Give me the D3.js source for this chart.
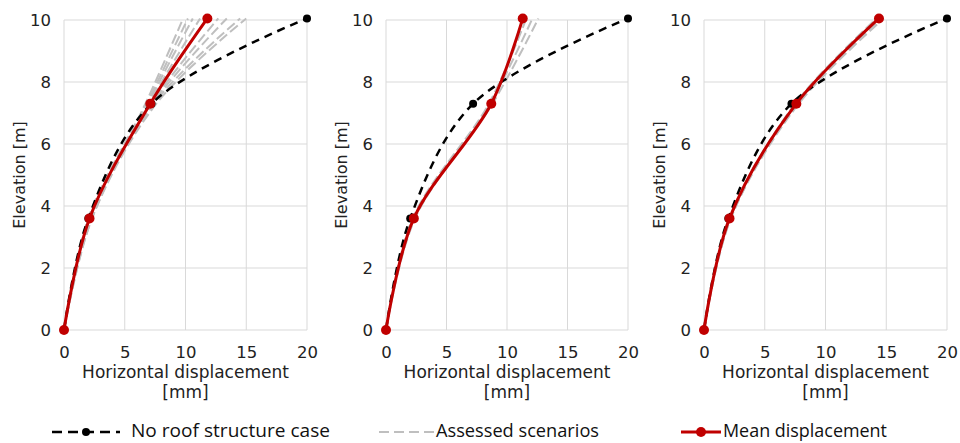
<!DOCTYPE html>
<html>
<head>
<meta charset="utf-8">
<script src="https://cdn.jsdelivr.net/npm/d3@7"></script>
<style>
  body { margin: 0; background: #fff; }
  svg { display: block; }
  .legend text { font-family: "Open Sans", "Noto Sans", sans-serif; font-size: 19px; fill: #111; }
</style>
</head>
<body>
<svg id="chart" width="960" height="443"></svg>
<script>
const elevations = [0, 3.6, 7.3, 10.05];
const xTicks = [0, 5, 10, 15, 20];
const yTicks = [0, 2, 4, 6, 8, 10];

// no roof structure case, per panel
const noRoof = [
  [0, 2.0, 7.2, 20],
  [0, 2.0, 7.2, 20],
  [0, 2.0, 7.2, 20]
];

// mean displacement, per panel
const meanDisp = [
  [0, 2.1, 7.1, 11.8],
  [0, 2.3, 8.7, 11.3],
  [0, 2.1, 7.6, 14.4]
];

// assessed scenarios, per panel
const scenarios = [
  [
    [0, 2.0, 6.7, 9.8],
    [0, 2.0, 6.8, 10.2],
    [0, 2.1, 6.9, 10.6],
    [0, 2.1, 7.0, 11.2],
    [0, 2.2, 7.2, 12.7],
    [0, 2.2, 7.3, 13.4],
    [0, 2.3, 7.4, 14.5],
    [0, 2.3, 7.6, 15.0]
  ],
  [
    [0, 2.2, 8.5, 11.6],
    [0, 2.3, 8.6, 12.1],
    [0, 2.4, 8.8, 12.6]
  ],
  [
    [0, 2.1, 7.5, 14.2],
    [0, 2.2, 7.7, 14.6],
    [0, 2.2, 7.8, 14.8]
  ]
];

const panels = [
  {left: 64, right: 307},
  {left: 386, right: 628},
  {left: 704, right: 947}
];
const plotTop = 20, plotBottom = 330;
const font = '"DejaVu Sans", Verdana, sans-serif';

const svg = d3.select('#chart');

const styleTicks = a => {
  a.select('.domain').remove();
  a.selectAll('text')
      .attr('font-family', font)
      .attr('font-size', 16.5)
      .attr('fill', '#222');
};

const drawPanel = (p, i) => {
  const x = d3.scaleLinear().domain([0, 20]).range([p.left, p.right]);
  const y = d3.scaleLinear().domain([0, 10]).range([plotBottom, plotTop]);
  const g = svg.append('g');

  // gridlines
  g.selectAll('.vgrid').data(xTicks).join('line')
      .attr('x1', d => x(d)).attr('x2', d => x(d))
      .attr('y1', plotTop).attr('y2', plotBottom)
      .attr('stroke', '#d9d9d9').attr('stroke-width', 1);
  g.selectAll('.hgrid').data(yTicks).join('line')
      .attr('x1', p.left).attr('x2', p.right)
      .attr('y1', d => y(d)).attr('y2', d => y(d))
      .attr('stroke', '#d9d9d9').attr('stroke-width', 1);

  g.append('g')
      .attr('transform', `translate(0,${plotBottom})`)
      .call(d3.axisBottom(x).tickValues(xTicks).tickSize(0).tickPadding(16))
      .call(styleTicks);
  g.append('g')
      .attr('transform', `translate(${p.left},0)`)
      .call(d3.axisLeft(y).tickValues(yTicks).tickSize(0).tickPadding(13))
      .call(styleTicks);

  const label = g.append('g')
      .attr('font-family', font)
      .attr('font-size', 17)
      .attr('fill', '#222')
      .attr('text-anchor', 'middle');
  label.append('text')
      .attr('x', (p.left + p.right) / 2).attr('y', 378)
      .text('Horizontal displacement');
  label.append('text')
      .attr('x', (p.left + p.right) / 2).attr('y', 398)
      .text('[mm]');
  label.append('text')
      .attr('font-size', 16)
      .attr('transform', `translate(${p.left - 39},${(plotTop + plotBottom) / 2}) rotate(-90)`)
      .text('Elevation [m]');

  const line = d3.line()
      .x(d => x(d[0]))
      .y(d => y(d[1]))
      .curve(d3.curveCatmullRom.alpha(0.5));
  const pts = vals => vals.map((v, k) => [v, elevations[k]]);

  scenarios[i].forEach(s => {
    g.append('path')
        .attr('d', line(pts(s)))
        .attr('fill', 'none')
        .attr('stroke', '#bfbfbf')
        .attr('stroke-width', 2)
        .attr('stroke-dasharray', '10,4');
  });

  g.append('path')
      .attr('d', line(pts(noRoof[i])))
      .attr('fill', 'none')
      .attr('stroke', '#000')
      .attr('stroke-width', 2.5)
      .attr('stroke-dasharray', '8,6');
  g.selectAll('.nr').data(pts(noRoof[i])).join('circle')
      .attr('cx', d => x(d[0])).attr('cy', d => y(d[1]))
      .attr('r', 4).attr('fill', '#000');

  g.append('path')
      .attr('d', line(pts(meanDisp[i])))
      .attr('fill', 'none')
      .attr('stroke', '#c00000')
      .attr('stroke-width', 3);
  g.selectAll('.md').data(pts(meanDisp[i])).join('circle')
      .attr('cx', d => x(d[0])).attr('cy', d => y(d[1]))
      .attr('r', 5).attr('fill', '#c00000');
};

panels.forEach(drawPanel);

// legend
const legend = svg.append('g').attr('class', 'legend');
const ly = 432;

legend.append('line').attr('x1', 52).attr('x2', 120).attr('y1', ly).attr('y2', ly)
    .attr('stroke', '#000').attr('stroke-width', 2.5).attr('stroke-dasharray', '10,6');
legend.append('circle').attr('cx', 86).attr('cy', ly).attr('r', 4).attr('fill', '#000');
legend.append('text').attr('x', 131).attr('y', ly + 5)
    .attr('textLength', 199).attr('lengthAdjust', 'spacingAndGlyphs')
    .text('No roof structure case');

legend.append('line').attr('x1', 379).attr('x2', 434).attr('y1', ly).attr('y2', ly)
    .attr('stroke', '#bfbfbf').attr('stroke-width', 2).attr('stroke-dasharray', '10,5');
legend.append('text').attr('x', 436).attr('y', ly + 5)
    .attr('textLength', 163).attr('lengthAdjust', 'spacingAndGlyphs')
    .text('Assessed scenarios');

legend.append('line').attr('x1', 681).attr('x2', 721).attr('y1', ly).attr('y2', ly)
    .attr('stroke', '#c00000').attr('stroke-width', 3);
legend.append('circle').attr('cx', 701).attr('cy', ly).attr('r', 5).attr('fill', '#c00000');
legend.append('text').attr('x', 723).attr('y', ly + 5)
    .attr('textLength', 164).attr('lengthAdjust', 'spacingAndGlyphs')
    .text('Mean displacement');
</script>
</body>
</html>
